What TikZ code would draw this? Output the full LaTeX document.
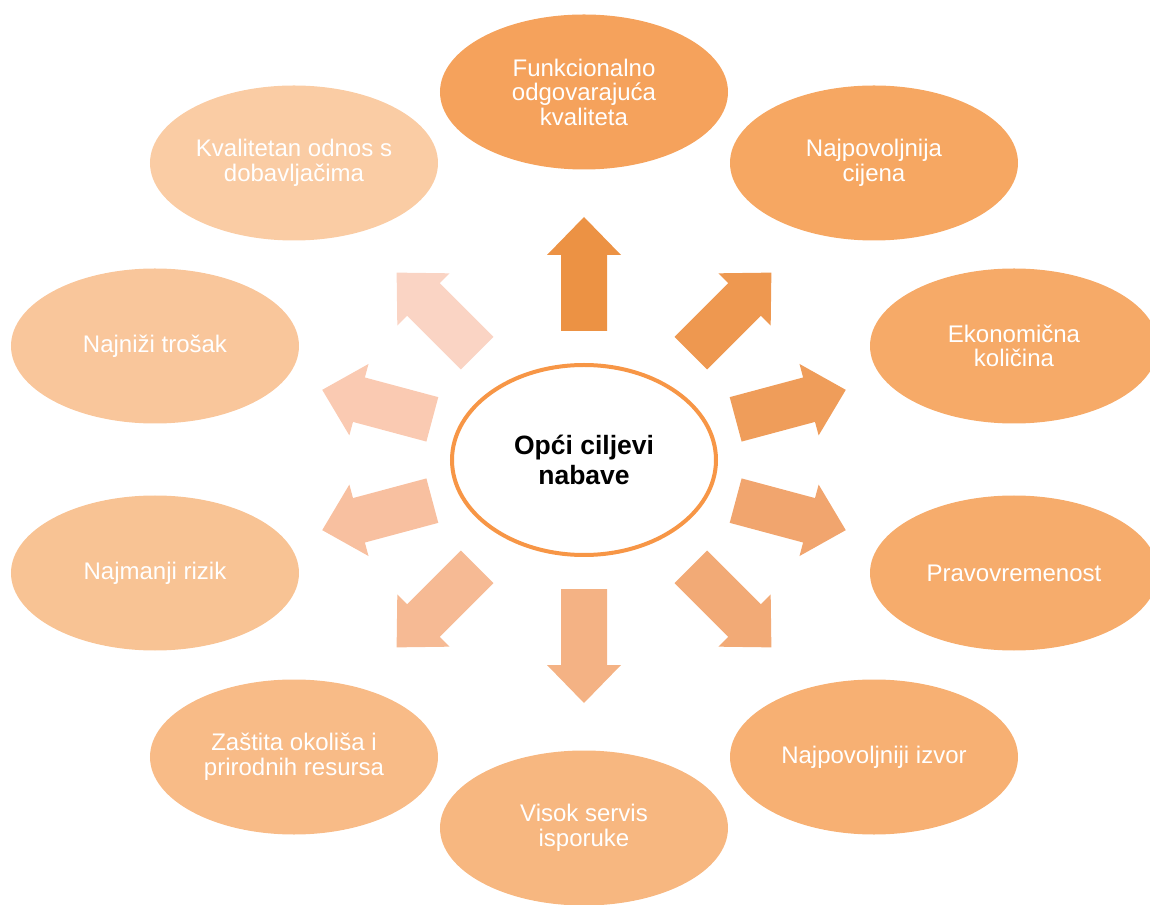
\documentclass[tikz,border=0pt]{standalone}
\usepackage{fontspec}
\setmainfont{Liberation Sans}
\usetikzlibrary{shapes.geometric}
\definecolor{hubline}{HTML}{F79646}
\definecolor{e1}{HTML}{F5A25C}
\definecolor{e2}{HTML}{F6A762}
\definecolor{e3}{HTML}{F6AA68}
\definecolor{e4}{HTML}{F6AC6C}
\definecolor{e5}{HTML}{F7B073}
\definecolor{e6}{HTML}{F7B780}
\definecolor{e7}{HTML}{F8BB87}
\definecolor{e8}{HTML}{F8C394}
\definecolor{e9}{HTML}{F9C69B}
\definecolor{e10}{HTML}{FACCA4}
\definecolor{a1}{HTML}{EC9244}
\definecolor{a2}{HTML}{EE9850}
\definecolor{a3}{HTML}{EF9D5A}
\definecolor{a4}{HTML}{F1A56E}
\definecolor{a5}{HTML}{F2AA76}
\definecolor{a6}{HTML}{F4B284}
\definecolor{a7}{HTML}{F6BA94}
\definecolor{a8}{HTML}{F8C0A0}
\definecolor{a9}{HTML}{FACAB2}
\definecolor{a10}{HTML}{FAD4C4}
\begin{document}
\begin{tikzpicture}[x=1pt,y=1pt,
  goal/.style={ellipse, minimum width=288pt, minimum height=155pt, inner sep=0pt,
    text=white, align=center, font=\fontsize{24}{24.5}\selectfont},
  hub/.style={ellipse, draw=hubline, line width=4pt, fill=white,
    minimum width=264pt, minimum height=190pt, inner sep=0pt, align=center,
    font=\bfseries\fontsize{26.5}{30}\selectfont}]
\useasboundingbox (-584,-444) rectangle (566,460);
\node[hub] (c) at (0,0) {Opći ciljevi\\nabave};
\node[goal, fill=e1] (g1) at (0,368) {Funkcionalno\\odgovarajuća\\kvaliteta};
\node[goal, fill=e2] (g2) at (290,297) {Najpovoljnija\\cijena};
\node[goal, fill=e3] (g3) at (430,114) {Ekonomična\\količina};
\node[goal, fill=e4] (g4) at (430,-113) {Pravovremenost};
\node[goal, fill=e5] (g5) at (290,-297) {Najpovoljniji izvor};
\node[goal, fill=e6] (g6) at (0,-368) {Visok servis\\isporuke};
\node[goal, fill=e7] (g7) at (-290,-297) {Zaštita okoliša i\\prirodnih resursa};
\node[goal, fill=e8] (g8) at (-429,-113) {Najmanji rizik};
\node[goal, fill=e9] (g9) at (-429,114) {Najniži trošak};
\node[goal, fill=e10] (g10) at (-290,297) {Kvalitetan odnos s\\dobavljačima};
\foreach \a/\r/\c in {90/186/a1, 45/208/a2, 15/214/a3, -15/214/a4, -45/208/a5,
    -90/186/a6, -135/208/a7, -165/214/a8, 165/214/a9, 135/208/a10}
  \fill[\c, shift={(\a:\r)}, rotate=\a]
    (-57,-23) -- (19,-23) -- (19,-37) -- (57,0) -- (19,37) -- (19,23) -- (-57,23) -- cycle;
\end{tikzpicture}
\end{document}
